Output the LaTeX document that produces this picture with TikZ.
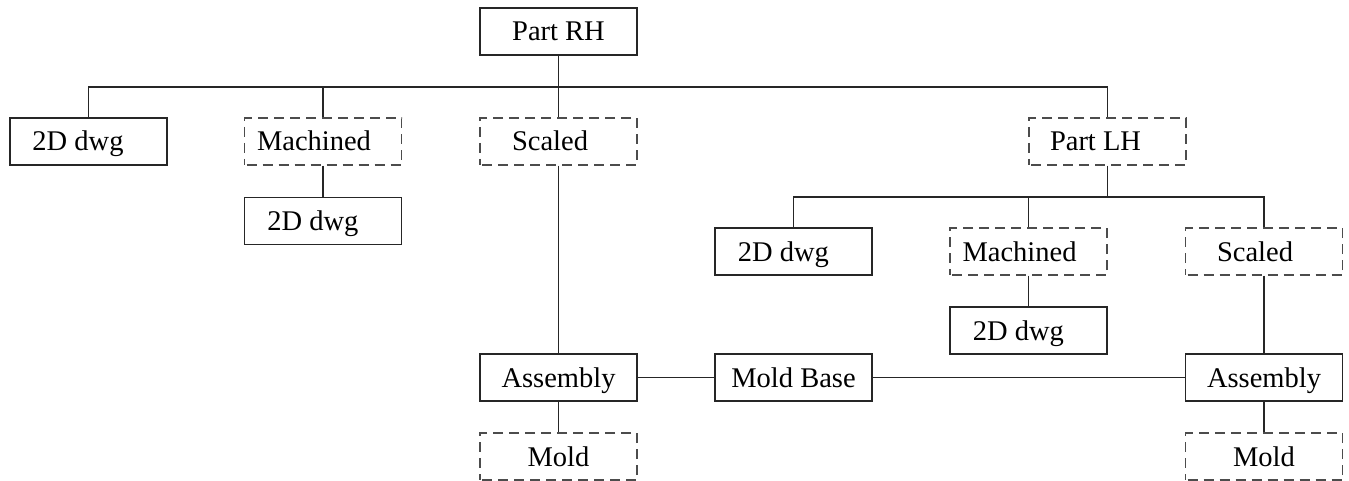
\documentclass[tikz,border=0pt]{standalone}
\usepackage{fontspec}
\setmainfont{Liberation Serif}
\begin{document}
\begin{tikzpicture}[x=1pt,y=-1pt,
  item/.style={minimum width=157pt, minimum height=47pt, inner sep=0pt,
    text height=19pt, text depth=0pt, anchor=center,
    font=\fontsize{28.5}{30}\selectfont},
  solidbox/.style={item, draw=black!85, line width=1.1pt},
  dashbox/.style={item, draw=black!70, line width=1.2pt, dash pattern=on 10pt off 6pt, dash phase=-2pt},
  link/.style={draw=black!85, line width=1.1pt}]
\useasboundingbox (0,0) rectangle (1349,481);
% shift text to the left inside a box
\newcommand\lsh[1]{\hspace*{-#1pt}}

% top level
\node[solidbox] (partrh) at (558.5,31.5) {Part RH};
\node[solidbox] (dwgA) at (88.5,141.5) {\lsh{21}2D dwg};
\node[dashbox] (machA) at (323,141.5) {\lsh{18}Machined};
\node[dashbox] (scalA) at (558.5,141.5) {\lsh{17}Scaled};
\node[dashbox] (partlh) at (1107.5,141.5) {\lsh{24}Part LH};
\node[solidbox] (dwgAm) at (323,221) {\lsh{20}2D dwg};

% left-hand branch
\node[solidbox] (dwgB) at (793.5,251.5) {\lsh{20}2D dwg};
\node[dashbox] (machB) at (1028.5,251.5) {\lsh{18}Machined};
\node[dashbox] (scalB) at (1264,251.5) {\lsh{18}Scaled};
\node[solidbox] (dwgBm) at (1028.5,330.5) {\lsh{20}2D dwg};

% assemblies
\node[solidbox] (asmA) at (558.5,377.5) {Assembly};
\node[solidbox] (base) at (793.5,377.5) {Mold Base};
\node[solidbox] (asmB) at (1264,377.5) {Assembly};
\node[dashbox] (moldA) at (558.5,456.5) {Mold};
\node[dashbox] (moldB) at (1264,456.5) {Mold};

% tree bus under Part RH
\coordinate (busA) at (558.5,87);
\draw[link] (partrh.south) -- (busA);
\draw[link] (dwgA.north) |- (busA) -| (partlh.north);
\draw[link] (machA.north) -- (machA.north |- busA);
\draw[link] (busA) -- (scalA.north);
\draw[link] (machA.south) -- (dwgAm.north);
\draw[link] (scalA.south) -- (asmA.north);

% tree bus under Part LH
\coordinate (busB) at (1107.5,197);
\draw[link] (partlh.south) -- (busB);
\draw[link] (dwgB.north) |- (busB) -| (scalB.north);
\draw[link] (machB.north) -- (machB.north |- busB);
\draw[link] (machB.south) -- (dwgBm.north);
\draw[link] (scalB.south) -- (asmB.north);

% assemblies and mold base
\draw[link] (asmA.east) -- (base.west);
\draw[link] (base.east) -- (asmB.west);
\draw[link] (asmA.south) -- (moldA.north);
\draw[link] (asmB.south) -- (moldB.north);
\end{tikzpicture}
\end{document}
